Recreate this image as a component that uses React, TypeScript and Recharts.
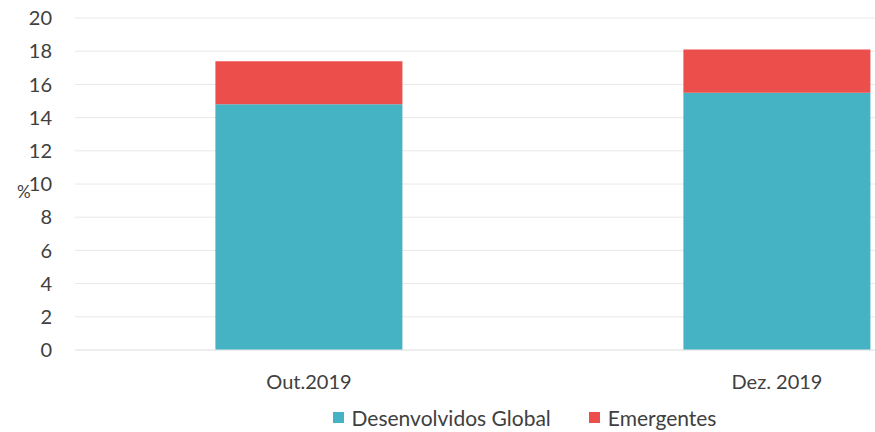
import React from "react";
import { BarChart, Bar, XAxis, YAxis, CartesianGrid, Legend } from "recharts";

const categories = ["Out.2019", "Dez. 2019"];
const desenvolvidos = [14.8, 15.5];
const emergentes = [2.6, 2.6];
const yTicks = [0, 2, 4, 6, 8, 10, 12, 14, 16, 18, 20];

const data = categories.map((c, i) => ({
  name: c,
  dev: desenvolvidos[i],
  em: emergentes[i],
}));

const FONT = "Lato, 'Open Sans', sans-serif";

const renderLegend = (props: any) => {
  const { payload } = props;
  return (
    <div
      style={{
        display: "flex",
        justifyContent: "center",
        alignItems: "center",
        height: 30,
        fontFamily: FONT,
        fontSize: 21,
        color: "#404040",
      }}
    >
      {(payload || []).map((entry: any, i: number) => (
        <div
          key={i}
          style={{ display: "flex", alignItems: "center", marginRight: i === 0 ? 38 : 0 }}
        >
          <span
            style={{
              display: "inline-block",
              width: 11,
              height: 11,
              background: entry.color,
              marginRight: 8,
            }}
          />
          <span>{entry.value}</span>
        </div>
      ))}
    </div>
  );
};

export default function App() {
  return (
    <div
      style={{
        position: "fixed",
        left: 0,
        top: 0,
        width: 875,
        height: 432,
        overflow: "hidden",
        background: "#fff",
        fontFamily: FONT,
      }}
    >
      <BarChart
        width={1021}
        height={432}
        data={data}
        margin={{ top: 18, right: 10, left: 0, bottom: 0 }}
        barCategoryGap="30%"
      >
        <CartesianGrid vertical={false} stroke="#e8e8e8" />
        <XAxis
          dataKey="name"
          axisLine={{ stroke: "#e8e8e8" }}
          tickLine={false}
          tick={{ fill: "#404040", fontSize: 20, fontFamily: FONT }}
          tickMargin={19}
          height={52}
        />
        <YAxis
          domain={[0, 20]}
          ticks={yTicks}
          width={75}
          axisLine={false}
          tickLine={false}
          tickSize={0}
          tickMargin={23}
          interval={0}
          tick={{ fill: "#404040", fontSize: 20, fontFamily: FONT }}
          label={{
            value: "%",
            position: "insideLeft",
            offset: 17,
            dy: 8,
            style: { fill: "#404040", fontSize: 17, fontFamily: FONT },
          }}
        />
        <Legend
          verticalAlign="bottom"
          content={renderLegend}
          wrapperStyle={{ left: 0, width: 1049, bottom: 0 }}
        />
        <Bar
          dataKey="dev"
          name="Desenvolvidos Global"
          stackId="a"
          fill="#45b3c3"
          isAnimationActive={false}
        />
        <Bar
          dataKey="em"
          name="Emergentes"
          stackId="a"
          fill="#ec4f4b"
          isAnimationActive={false}
        />
      </BarChart>
    </div>
  );
}
